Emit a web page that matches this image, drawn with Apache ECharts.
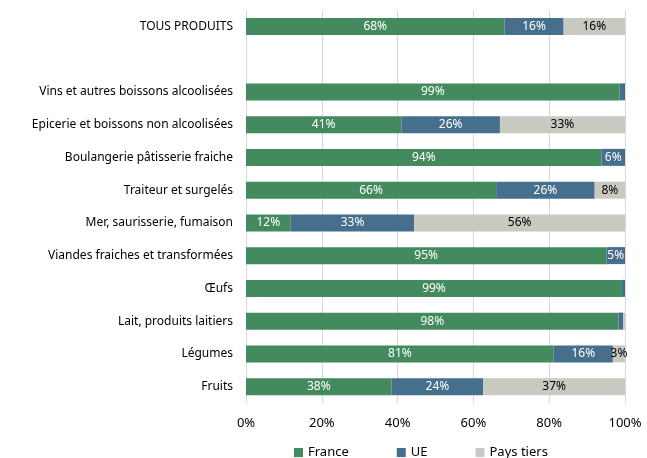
<!DOCTYPE html>
<html>
<head>
<meta charset="utf-8">
<script src="https://cdn.jsdelivr.net/npm/echarts@6/dist/echarts.min.js"></script>
<style>
  html, body { margin: 0; padding: 0; background: #fff; }
  #chart { width: 647px; height: 458px; }
</style>
</head>
<body>
<div id="chart"></div>
<script>
// categories from bottom to top (the empty one is the gap under TOUS PRODUITS)
const categories = ['Fruits', 'Légumes', 'Lait, produits laitiers', 'Œufs',
  'Viandes fraiches et transformées', 'Mer, saurisserie, fumaison',
  'Traiteur et surgelés', 'Boulangerie pâtisserie fraiche',
  'Epicerie et boissons non alcoolisées', 'Vins et autres boissons alcoolisées',
  '', 'TOUS PRODUITS']
const france = [38.4, 81.2, 98.3, 99.2, 95.1, 11.8, 66, 93.8, 41, 98.6, null, 68.2]
const ue = [24.2, 15.6, 1.2, 0.8, 4.9, 32.6, 26, 6.2, 26, 1.4, null, 15.6]
const paysTiers = [37.4, 3.2, 0.5, 0, 0, 55.6, 8, 0, 33, 0, null, 16.2]
const ticks = ['0%', '20%', '40%', '60%', '80%', '100%']

const font = 'Noto Sans'
const label = color => ({
  show: true,
  color: color,
  fontFamily: font,
  fontSize: 12,
  formatter: p => (p.value >= 3 ? Math.round(p.value) + '%' : '')
})

const chart = echarts.init(document.getElementById('chart'))
chart.setOption({
  animation: false,
  color: ['#438B5E', '#456F8C', '#C9C8C1'],
  legend: {
    left: 289,
    top: 441,
    itemWidth: 9,
    itemHeight: 9,
    itemGap: 48,
    icon: 'rect',
    textStyle: { fontFamily: font, fontSize: 13, color: '#000' },
    data: ['France', 'UE', 'Pays tiers']
  },
  grid: { left: 246, right: 22, top: 10, bottom: 55 },
  xAxis: {
    type: 'value',
    min: 0,
    max: 100,
    interval: 20,
    axisLine: { show: false },
    axisTick: { show: false },
    splitLine: { lineStyle: { color: '#D9D9D9', width: 1 } },
    axisLabel: {
      fontFamily: font, fontSize: 13, color: '#000', margin: 14,
      formatter: v => ticks[v / 20]
    }
  },
  yAxis: {
    type: 'category',
    data: categories,
    axisLine: { show: false },
    axisTick: { show: false },
    axisLabel: { fontFamily: font, fontSize: 12, color: '#000', margin: 13 }
  },
  series: [
    { name: 'France', type: 'bar', stack: 'tot', barWidth: 17, data: france, label: label('#fff') },
    { name: 'UE', type: 'bar', stack: 'tot', barWidth: 17, data: ue, label: label('#fff') },
    { name: 'Pays tiers', type: 'bar', stack: 'tot', barWidth: 17, data: paysTiers, label: label('#000') }
  ]
})
</script>
</body>
</html>
